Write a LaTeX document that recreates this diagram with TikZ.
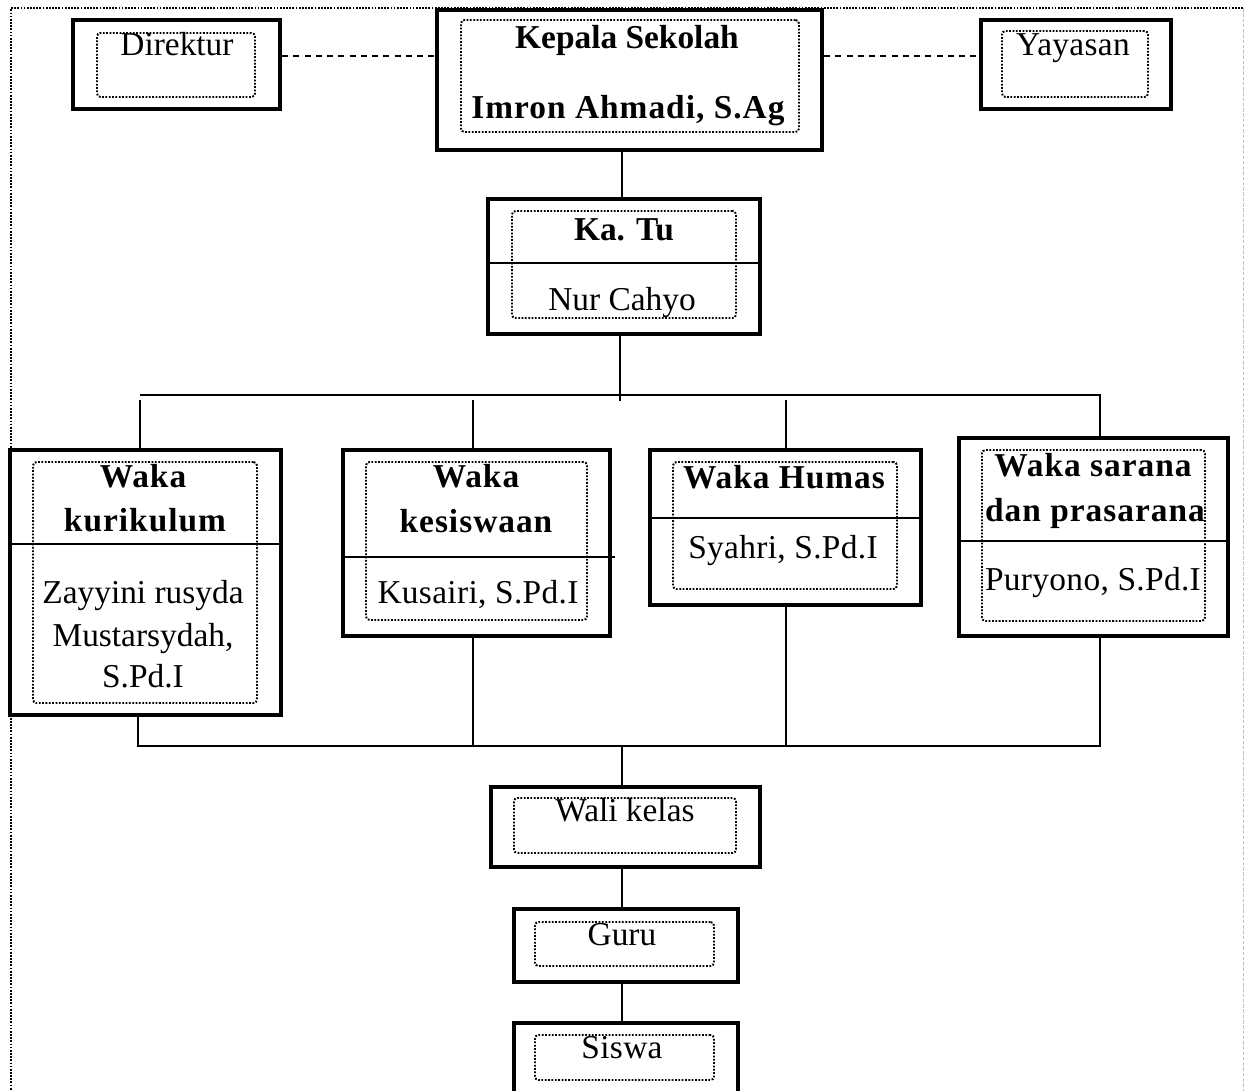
\documentclass[tikz,border=0pt]{standalone}
\usepackage{fontspec}
\setmainfont{Liberation Serif}
\usetikzlibrary{fit}

\tikzset{
  x=0.02cm, y=-0.02cm,
  outerbox/.style={draw, line width=2.5pt, fill=white, inner sep=0pt, rectangle},
  innerbox/.style={draw, line width=1.1pt, dash pattern=on 1pt off 0.9pt,
                   rounded corners=2pt, inner sep=0pt, rectangle},
  conn/.style={line width=1.1pt},
  divider/.style={line width=1pt},
  dashconn/.style={line width=1.1pt, dash pattern=on 3.4pt off 3pt},
  txt/.style={anchor=base, inner sep=0pt, font=\fontsize{19}{21}\selectfont},
  btxt/.style={txt, font=\fontsize{19}{21}\selectfont\bfseries},
  wbtxt/.style={txt, font=\fontsize{19}{21}\selectfont\bfseries\addfontfeatures{LetterSpace=3}},
  wtxt/.style={txt, font=\fontsize{19}{21}\selectfont\addfontfeatures{LetterSpace=1}},
}

\begin{document}
\begin{tikzpicture}
\useasboundingbox (0,0) rectangle (1244,1090);

% page frame
\draw[line width=1.3pt, dash pattern=on 1pt off 0.8pt] (1243,8) -- (11,8) -- (11,1095);
\draw[gray!50, line width=0.4pt, dash pattern=on 2pt off 1pt] (1243,8) -- (1243,1095);

% level of the dashed advisory links
\coordinate (dl) at (0,56);

% top row
\node[outerbox, fit={(73,20) (280,109)}] (direktur) {};
\node[innerbox, fit={(97,33) (255,97)}] (direktur-in) {};
\node[txt] (direktur-t) at (177,55) {Direktur};

\node[outerbox, fit={(437,10) (822,150)}] (kepsek) {};
\node[innerbox, fit={(461,20) (799,132)}] (kepsek-in) {};
\node[btxt] (kepsek-t1) at (627,48) {Kepala Sekolah};
\node[wbtxt] (kepsek-t2) at (628,118) {Imron Ahmadi, S.Ag};

\node[outerbox, fit={(981,20) (1171,109)}] (yayasan) {};
\node[innerbox, fit={(1002,31) (1148,97)}] (yayasan-in) {};
\node[wtxt] (yayasan-t) at (1073,55) {Yayasan};

\draw[dashconn] (direktur.east |- dl) -- (kepsek.west |- dl);
\draw[dashconn] (kepsek.east |- dl) -- (yayasan.west |- dl);

% administration
\node[outerbox, fit={(488,199) (760,334)}] (katu) {};
\node[innerbox, fit={(512,211) (736,318)}] (katu-in) {};
\draw[divider] (katu.west |- 0,263) -- (katu.east |- 0,263);
\node[btxt] (katu-t1) at (624,240) {Ka. Tu};
\node[txt] (katu-t2) at (622,310) {Nur Cahyo};

\draw[conn] (kepsek.south -| 622,0) -- (katu.north -| 622,0);

% vice principals
\node[outerbox, fit={(10,450) (281,715)}] (kurikulum) {};
\node[innerbox, fit={(33,462) (257,703)}] (kurikulum-in) {};
\draw[divider] (kurikulum.west |- 0,544) -- (kurikulum.east |- 0,544);
\node[wbtxt] (kurikulum-t1) at (143,487) {Waka};
\node[wbtxt] (kurikulum-t2) at (145,531) {kurikulum};
\node[txt] (kurikulum-t3) at (143,603) {Zayyini rusyda};
\node[txt] (kurikulum-t4) at (143,646) {Mustarsydah,};
\node[txt] (kurikulum-t5) at (143,687) {S.Pd.I};

\node[outerbox, fit={(343,450) (610,636)}] (kesiswaan) {};
\node[innerbox, fit={(366,462) (587,620)}] (kesiswaan-in) {};
\draw[divider] (kesiswaan.west |- 0,557) -- (615,557);
\node[wbtxt] (kesiswaan-t1) at (476,487) {Waka};
\node[wbtxt] (kesiswaan-t2) at (476,532) {kesiswaan};
\node[wtxt] (kesiswaan-t3) at (478,603) {Kusairi, S.Pd.I};

\node[outerbox, fit={(650,450) (921,605)}] (humas) {};
\node[innerbox, fit={(673,462) (897,589)}] (humas-in) {};
\draw[divider] (humas.west |- 0,518) -- (humas.east |- 0,518);
\node[wbtxt] (humas-t1) at (784,488) {Waka Humas};
\node[wtxt] (humas-t2) at (783,558) {Syahri, S.Pd.I};

\node[outerbox, fit={(959,438) (1228,636)}] (sarana) {};
\node[innerbox, fit={(982,450) (1205,621)}] (sarana-in) {};
\draw[divider] (sarana.west |- 0,541) -- (sarana.east |- 0,541);
\node[wbtxt] (sarana-t1) at (1093,476) {Waka sarana};
\node[wbtxt] (sarana-t2) at (1095,521) {dan prasarana};
\node[wtxt] (sarana-t3) at (1093,590) {Puryono, S.Pd.I};

% upper bus
\coordinate (bt) at (0,395);
\draw[conn] (katu.south -| 620,0) -- (620,401);
\draw[conn] (140,395) -- (1100,395) -- (sarana.north -| 1100,0);
\draw[conn] (140,400) -- (kurikulum.north -| 140,0);
\draw[conn] (473,400) -- (kesiswaan.north -| 473,0);
\draw[conn] (786,400) -- (humas.north -| 786,0);

% lower bus
\coordinate (bb) at (0,746);
\draw[conn] (kurikulum.south -| 138,0) |- (1100,746) -- (sarana.south -| 1100,0);
\draw[conn] (kesiswaan.south -| 473,0) -- (473,746);
\draw[conn] (humas.south -| 786,0) -- (786,746);

% classroom chain
\node[outerbox, fit={(491,787) (760,867)}] (walikelas) {};
\node[innerbox, fit={(514,798) (736,853)}] (walikelas-in) {};
\node[txt] (walikelas-t) at (625,821) {Wali kelas};

\node[outerbox, fit={(514,909) (738,982)}] (guru) {};
\node[innerbox, fit={(535,922) (714,966)}] (guru-in) {};
\node[txt] (guru-t) at (622,945) {Guru};

\node[outerbox, fit={(514,1023) (738,1110)}] (siswa) {};
\node[innerbox, fit={(535,1035) (714,1080)}] (siswa-in) {};
\node[wtxt] (siswa-t) at (622,1058) {Siswa};

\draw[conn] (622,746) -- (walikelas.north -| 622,0);
\draw[conn] (walikelas.south -| 622,0) -- (guru.north -| 622,0);
\draw[conn] (guru.south -| 622,0) -- (siswa.north -| 622,0);
\end{tikzpicture}
\end{document}
